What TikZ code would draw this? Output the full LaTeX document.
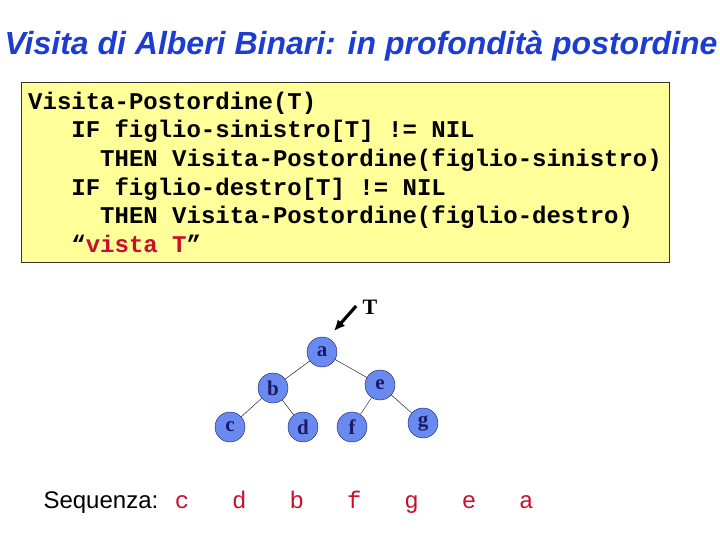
\documentclass[tikz,border=0pt]{standalone}
\usepackage{fontspec}
\setmainfont{Liberation Sans}
\newfontfamily\codefont{Liberation Mono}
\newfontfamily\nodefont{Liberation Serif}
\usepackage{tikz}
\usetikzlibrary{arrows.meta,positioning}
\definecolor{titleblue}{HTML}{1C3CD2}
\definecolor{codebg}{HTML}{FFFF99}
\definecolor{boxline}{HTML}{333333}
\definecolor{nodefill}{HTML}{6A8AF0}
\definecolor{nodeline}{HTML}{1A1A66}
\definecolor{seqred}{HTML}{C8102E}
\newcommand{\monospaces}{\spaceskip=0.6em\xspaceskip=0.6em\relax}
\tikzset{>=Latex,codebox/.style={draw=boxline,fill=codebg,align=left,anchor=north west,text width=634pt,inner xsep=7pt,inner ysep=0pt,minimum height=180pt,font=\codefont\bfseries\fontsize{24}{28.7}\selectfont},treenode/.style={circle,draw=nodeline,fill=nodefill,minimum size=30pt,inner sep=0pt,text=nodeline,font=\nodefont\bfseries\fontsize{21}{21}\selectfont},edge/.style={black,thin},ptr/.style={-{Latex[length=11pt,width=10pt]},line width=3.2pt},seqletter/.style={anchor=base,text=seqred,font=\codefont\fontsize{24}{24}\selectfont}}

\begin{document}
\begin{tikzpicture}[x=1pt,y=-1pt]
\useasboundingbox (0,0) rectangle (720,540);
\node[anchor=base,text=titleblue,font=\bfseries\itshape\fontsize{32}{36}\selectfont] (title) at (361,55) {Visita di Alberi Binari: in profondità postordine};
\node[codebox] (code) at (21,82) {\monospaces Visita-Postordine(T)\\
\hspace*{1.8em}IF figlio-sinistro[T] != NIL\\
\hspace*{3em}THEN Visita-Postordine(figlio-sinistro)\\
\hspace*{1.8em}IF figlio-destro[T] != NIL\\
\hspace*{3em}THEN Visita-Postordine(figlio-destro)\\
\hspace*{1.8em}“\textcolor{seqred}{vista T}”};
% albero
\node[treenode] (a) at (322,352) {a};
\node[treenode] (b) at (273,388) {b};
\node[treenode] (e) at (380,385) {e};
\node[treenode] (c) at (230,427) {c};
\node[treenode] (d) at (303,427) {d};
\node[treenode] (f) at (352,427) {f};
\node[treenode] (g) at (423,423) {g};
\foreach \u/\v in {a/b,a/e,b/c,b/d,e/f,e/g}{\draw[edge] (\u) -- (\v);}
\node[font=\nodefont\bfseries\fontsize{22}{22}\selectfont] (tlabel) at (370,307) {T};
\coordinate (tip) at (334,331);
\draw[ptr] (tlabel.west) ++(-3,-1) -- (tip);
% sequenza
\node[anchor=base west,font=\fontsize{24}{24}\selectfont] (seqlabel) at (40,508) {Sequenza:};
\foreach \s [count=\i from 0] in {c,d,b,f,g,e,a}{\node[seqletter] (s\s) at ({182+57.4*\i},508) {\s};}
\end{tikzpicture}
\end{document}
